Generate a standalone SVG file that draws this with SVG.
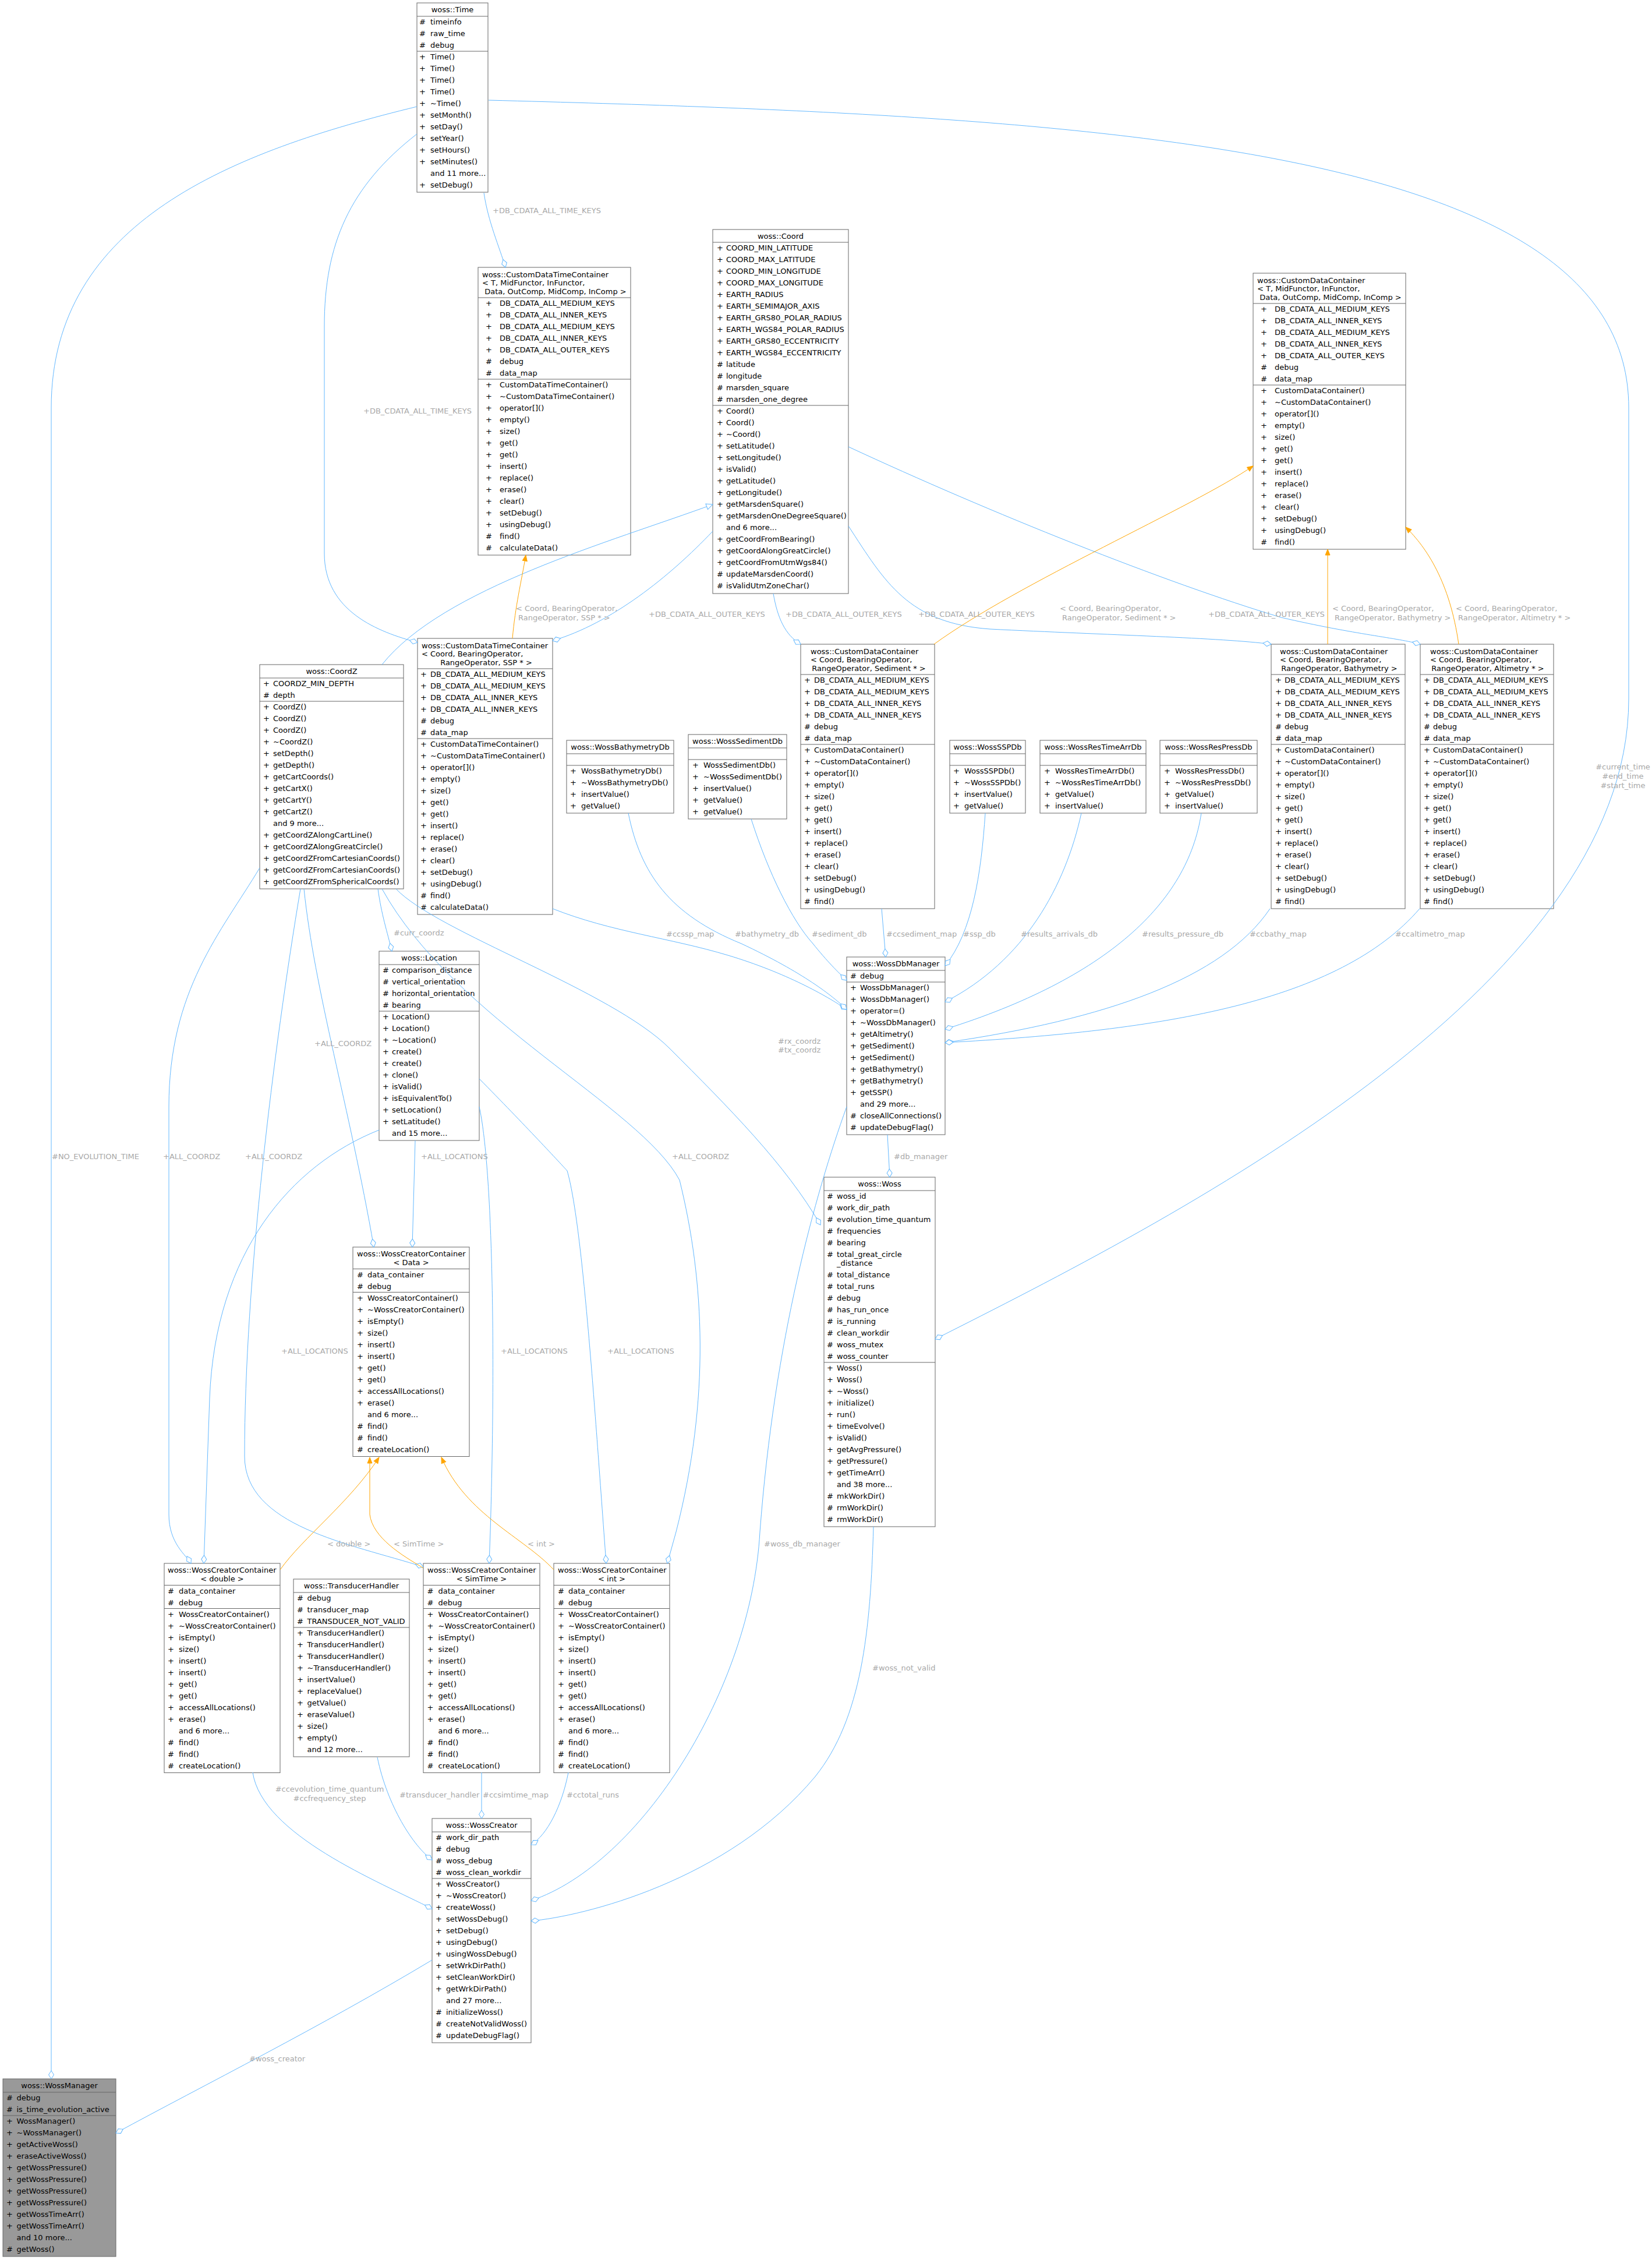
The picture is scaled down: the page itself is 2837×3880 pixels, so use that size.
<svg xmlns="http://www.w3.org/2000/svg" width="2837" height="3880" viewBox="0 0 2837 3880">
<style>
text{font-family:"DejaVu Sans","Liberation Sans",sans-serif;font-size:13px;fill:#000}
.c{text-anchor:middle}
.b{fill:#fff;stroke:#666;stroke-width:1}
.g{fill:#999;stroke:#666;stroke-width:1}
.s{stroke:#666;stroke-width:1;fill:none}
.e{fill:none;stroke:#63b8ff;stroke-width:1}
.o{fill:none;stroke:#ffa500;stroke-width:1}
.l{fill:#a8a8a8}
</style>
<defs>
<marker id="dm" viewBox="-15 -6 16 12" markerWidth="16" markerHeight="12" refX="0" refY="0" orient="auto" markerUnits="userSpaceOnUse"><path d="M0,0 L-7,-4.5 L-14,0 L-7,4.5 Z" fill="#fff" stroke="#63b8ff"/></marker>
<marker id="oa" viewBox="-12 -6 13 12" markerWidth="13" markerHeight="12" refX="0" refY="0" orient="auto" markerUnits="userSpaceOnUse"><path d="M0,0 L-10,-4 L-10,4 Z" fill="#ffa500" stroke="#ffa500"/></marker>
<marker id="ht" viewBox="-13 -7 14 14" markerWidth="14" markerHeight="14" refX="0" refY="0" orient="auto" markerUnits="userSpaceOnUse"><path d="M0,0 L-11,-5 L-11,5 Z" fill="#fff" stroke="#63b8ff"/></marker>
</defs>
<rect width="2837" height="3880" fill="#fff"/>

<g id="time" transform="translate(716,5)"><rect class="b" width="122" height="325"/><text class="c" x="61" y="16">woss::Time</text><path class="s" d="M0,23H122M0,83H122"/>
<text><tspan x="4" y="37">#</tspan><tspan x="23">timeinfo</tspan><tspan x="4" y="57">#</tspan><tspan x="23">raw_time</tspan><tspan x="4" y="77">#</tspan><tspan x="23">debug</tspan><tspan x="4" y="97">+</tspan><tspan x="23">Time()</tspan><tspan x="4" y="117">+</tspan><tspan x="23">Time()</tspan><tspan x="4" y="137">+</tspan><tspan x="23">Time()</tspan><tspan x="4" y="157">+</tspan><tspan x="23">Time()</tspan><tspan x="4" y="177">+</tspan><tspan x="23">~Time()</tspan><tspan x="4" y="197">+</tspan><tspan x="23">setMonth()</tspan><tspan x="4" y="217">+</tspan><tspan x="23">setDay()</tspan><tspan x="4" y="237">+</tspan><tspan x="23">setYear()</tspan><tspan x="4" y="257">+</tspan><tspan x="23">setHours()</tspan><tspan x="4" y="277">+</tspan><tspan x="23">setMinutes()</tspan><tspan x="23" y="297">and 11 more...</tspan><tspan x="4" y="317">+</tspan><tspan x="23">setDebug()</tspan></text></g>

<g id="cdtc_t" transform="translate(821,459)"><rect class="b" width="262" height="494"/><text x="7" y="16.5">woss::CustomDataTimeContainer</text><text x="7" y="31">&lt; T, MidFunctor, InFunctor,</text><text class="c" x="133" y="45.5">Data, OutComp, MidComp, InComp &gt;</text><path class="s" d="M0,52H262M0,192H262"/>
<text><tspan x="13" y="66">+</tspan><tspan x="37">DB_CDATA_ALL_MEDIUM_KEYS</tspan><tspan x="13" y="86">+</tspan><tspan x="37">DB_CDATA_ALL_INNER_KEYS</tspan><tspan x="13" y="106">+</tspan><tspan x="37">DB_CDATA_ALL_MEDIUM_KEYS</tspan><tspan x="13" y="126">+</tspan><tspan x="37">DB_CDATA_ALL_INNER_KEYS</tspan><tspan x="13" y="146">+</tspan><tspan x="37">DB_CDATA_ALL_OUTER_KEYS</tspan><tspan x="13" y="166">#</tspan><tspan x="37">debug</tspan><tspan x="13" y="186">#</tspan><tspan x="37">data_map</tspan><tspan x="13" y="206">+</tspan><tspan x="37">CustomDataTimeContainer()</tspan><tspan x="13" y="226">+</tspan><tspan x="37">~CustomDataTimeContainer()</tspan><tspan x="13" y="246">+</tspan><tspan x="37">operator[]()</tspan><tspan x="13" y="266">+</tspan><tspan x="37">empty()</tspan><tspan x="13" y="286">+</tspan><tspan x="37">size()</tspan><tspan x="13" y="306">+</tspan><tspan x="37">get()</tspan><tspan x="13" y="326">+</tspan><tspan x="37">get()</tspan><tspan x="13" y="346">+</tspan><tspan x="37">insert()</tspan><tspan x="13" y="366">+</tspan><tspan x="37">replace()</tspan><tspan x="13" y="386">+</tspan><tspan x="37">erase()</tspan><tspan x="13" y="406">+</tspan><tspan x="37">clear()</tspan><tspan x="13" y="426">+</tspan><tspan x="37">setDebug()</tspan><tspan x="13" y="446">+</tspan><tspan x="37">usingDebug()</tspan><tspan x="13" y="466">#</tspan><tspan x="37">find()</tspan><tspan x="13" y="486">#</tspan><tspan x="37">calculateData()</tspan></text></g>

<g id="coord" transform="translate(1224,394)"><rect class="b" width="233" height="625"/><text class="c" x="116.5" y="15.5">woss::Coord</text><path class="s" d="M0,22H233M0,302H233"/>
<text><tspan x="7" y="36">+</tspan><tspan x="23">COORD_MIN_LATITUDE</tspan><tspan x="7" y="56">+</tspan><tspan x="23">COORD_MAX_LATITUDE</tspan><tspan x="7" y="76">+</tspan><tspan x="23">COORD_MIN_LONGITUDE</tspan><tspan x="7" y="96">+</tspan><tspan x="23">COORD_MAX_LONGITUDE</tspan><tspan x="7" y="116">+</tspan><tspan x="23">EARTH_RADIUS</tspan><tspan x="7" y="136">+</tspan><tspan x="23">EARTH_SEMIMAJOR_AXIS</tspan><tspan x="7" y="156">+</tspan><tspan x="23">EARTH_GRS80_POLAR_RADIUS</tspan><tspan x="7" y="176">+</tspan><tspan x="23">EARTH_WGS84_POLAR_RADIUS</tspan><tspan x="7" y="196">+</tspan><tspan x="23">EARTH_GRS80_ECCENTRICITY</tspan><tspan x="7" y="216">+</tspan><tspan x="23">EARTH_WGS84_ECCENTRICITY</tspan><tspan x="7" y="236">#</tspan><tspan x="23">latitude</tspan><tspan x="7" y="256">#</tspan><tspan x="23">longitude</tspan><tspan x="7" y="276">#</tspan><tspan x="23">marsden_square</tspan><tspan x="7" y="296">#</tspan><tspan x="23">marsden_one_degree</tspan><tspan x="7" y="316">+</tspan><tspan x="23">Coord()</tspan><tspan x="7" y="336">+</tspan><tspan x="23">Coord()</tspan><tspan x="7" y="356">+</tspan><tspan x="23">~Coord()</tspan><tspan x="7" y="376">+</tspan><tspan x="23">setLatitude()</tspan><tspan x="7" y="396">+</tspan><tspan x="23">setLongitude()</tspan><tspan x="7" y="416">+</tspan><tspan x="23">isValid()</tspan><tspan x="7" y="436">+</tspan><tspan x="23">getLatitude()</tspan><tspan x="7" y="456">+</tspan><tspan x="23">getLongitude()</tspan><tspan x="7" y="476">+</tspan><tspan x="23">getMarsdenSquare()</tspan><tspan x="7" y="496">+</tspan><tspan x="23">getMarsdenOneDegreeSquare()</tspan><tspan x="23" y="516">and 6 more...</tspan><tspan x="7" y="536">+</tspan><tspan x="23">getCoordFromBearing()</tspan><tspan x="7" y="556">+</tspan><tspan x="23">getCoordAlongGreatCircle()</tspan><tspan x="7" y="576">+</tspan><tspan x="23">getCoordFromUtmWgs84()</tspan><tspan x="7" y="596">#</tspan><tspan x="23">updateMarsdenCoord()</tspan><tspan x="7" y="616">#</tspan><tspan x="23">isValidUtmZoneChar()</tspan></text></g>

<g id="cdc_t" transform="translate(2152,469)"><rect class="b" width="262" height="474"/><text x="7" y="16.5">woss::CustomDataContainer</text><text x="7" y="31">&lt; T, MidFunctor, InFunctor,</text><text class="c" x="133" y="45.5">Data, OutComp, MidComp, InComp &gt;</text><path class="s" d="M0,52H262M0,192H262"/>
<text><tspan x="13" y="66">+</tspan><tspan x="37">DB_CDATA_ALL_MEDIUM_KEYS</tspan><tspan x="13" y="86">+</tspan><tspan x="37">DB_CDATA_ALL_INNER_KEYS</tspan><tspan x="13" y="106">+</tspan><tspan x="37">DB_CDATA_ALL_MEDIUM_KEYS</tspan><tspan x="13" y="126">+</tspan><tspan x="37">DB_CDATA_ALL_INNER_KEYS</tspan><tspan x="13" y="146">+</tspan><tspan x="37">DB_CDATA_ALL_OUTER_KEYS</tspan><tspan x="13" y="166">#</tspan><tspan x="37">debug</tspan><tspan x="13" y="186">#</tspan><tspan x="37">data_map</tspan><tspan x="13" y="206">+</tspan><tspan x="37">CustomDataContainer()</tspan><tspan x="13" y="226">+</tspan><tspan x="37">~CustomDataContainer()</tspan><tspan x="13" y="246">+</tspan><tspan x="37">operator[]()</tspan><tspan x="13" y="266">+</tspan><tspan x="37">empty()</tspan><tspan x="13" y="286">+</tspan><tspan x="37">size()</tspan><tspan x="13" y="306">+</tspan><tspan x="37">get()</tspan><tspan x="13" y="326">+</tspan><tspan x="37">get()</tspan><tspan x="13" y="346">+</tspan><tspan x="37">insert()</tspan><tspan x="13" y="366">+</tspan><tspan x="37">replace()</tspan><tspan x="13" y="386">+</tspan><tspan x="37">erase()</tspan><tspan x="13" y="406">+</tspan><tspan x="37">clear()</tspan><tspan x="13" y="426">+</tspan><tspan x="37">setDebug()</tspan><tspan x="13" y="446">+</tspan><tspan x="37">usingDebug()</tspan><tspan x="13" y="466">#</tspan><tspan x="37">find()</tspan></text></g>

<g id="coordz" transform="translate(446,1141)"><rect class="b" width="247" height="385"/><text class="c" x="123.5" y="16">woss::CoordZ</text><path class="s" d="M0,23H247M0,63H247"/>
<text><tspan x="6" y="37">+</tspan><tspan x="23">COORDZ_MIN_DEPTH</tspan><tspan x="6" y="57">#</tspan><tspan x="23">depth</tspan><tspan x="6" y="77">+</tspan><tspan x="23">CoordZ()</tspan><tspan x="6" y="97">+</tspan><tspan x="23">CoordZ()</tspan><tspan x="6" y="117">+</tspan><tspan x="23">CoordZ()</tspan><tspan x="6" y="137">+</tspan><tspan x="23">~CoordZ()</tspan><tspan x="6" y="157">+</tspan><tspan x="23">setDepth()</tspan><tspan x="6" y="177">+</tspan><tspan x="23">getDepth()</tspan><tspan x="6" y="197">+</tspan><tspan x="23">getCartCoords()</tspan><tspan x="6" y="217">+</tspan><tspan x="23">getCartX()</tspan><tspan x="6" y="237">+</tspan><tspan x="23">getCartY()</tspan><tspan x="6" y="257">+</tspan><tspan x="23">getCartZ()</tspan><tspan x="23" y="277">and 9 more...</tspan><tspan x="6" y="297">+</tspan><tspan x="23">getCoordZAlongCartLine()</tspan><tspan x="6" y="317">+</tspan><tspan x="23">getCoordZAlongGreatCircle()</tspan><tspan x="6" y="337">+</tspan><tspan x="23">getCoordZFromCartesianCoords()</tspan><tspan x="6" y="357">+</tspan><tspan x="23">getCoordZFromCartesianCoords()</tspan><tspan x="6" y="377">+</tspan><tspan x="23">getCoordZFromSphericalCoords()</tspan></text></g>

<g id="cdtc_ssp" transform="translate(717,1096)"><rect class="b" width="232" height="474"/><text x="7" y="16.5">woss::CustomDataTimeContainer</text><text x="7" y="31">&lt; Coord, BearingOperator,</text><text class="c" x="118" y="45.5">RangeOperator, SSP * &gt;</text><path class="s" d="M0,52H232M0,172H232"/>
<text><tspan x="5" y="66">+</tspan><tspan x="22">DB_CDATA_ALL_MEDIUM_KEYS</tspan><tspan x="5" y="86">+</tspan><tspan x="22">DB_CDATA_ALL_MEDIUM_KEYS</tspan><tspan x="5" y="106">+</tspan><tspan x="22">DB_CDATA_ALL_INNER_KEYS</tspan><tspan x="5" y="126">+</tspan><tspan x="22">DB_CDATA_ALL_INNER_KEYS</tspan><tspan x="5" y="146">#</tspan><tspan x="22">debug</tspan><tspan x="5" y="166">#</tspan><tspan x="22">data_map</tspan><tspan x="5" y="186">+</tspan><tspan x="22">CustomDataTimeContainer()</tspan><tspan x="5" y="206">+</tspan><tspan x="22">~CustomDataTimeContainer()</tspan><tspan x="5" y="226">+</tspan><tspan x="22">operator[]()</tspan><tspan x="5" y="246">+</tspan><tspan x="22">empty()</tspan><tspan x="5" y="266">+</tspan><tspan x="22">size()</tspan><tspan x="5" y="286">+</tspan><tspan x="22">get()</tspan><tspan x="5" y="306">+</tspan><tspan x="22">get()</tspan><tspan x="5" y="326">+</tspan><tspan x="22">insert()</tspan><tspan x="5" y="346">+</tspan><tspan x="22">replace()</tspan><tspan x="5" y="366">+</tspan><tspan x="22">erase()</tspan><tspan x="5" y="386">+</tspan><tspan x="22">clear()</tspan><tspan x="5" y="406">+</tspan><tspan x="22">setDebug()</tspan><tspan x="5" y="426">+</tspan><tspan x="22">usingDebug()</tspan><tspan x="5" y="446">#</tspan><tspan x="22">find()</tspan><tspan x="5" y="466">#</tspan><tspan x="22">calculateData()</tspan></text></g>

<g id="bathy_db" transform="translate(973,1271)"><rect class="b" width="184" height="125"/><text class="c" x="92" y="16">woss::WossBathymetryDb</text><path class="s" d="M0,23H184M0,43H184"/>
<text><tspan x="6" y="57">+</tspan><tspan x="25">WossBathymetryDb()</tspan><tspan x="6" y="77">+</tspan><tspan x="25">~WossBathymetryDb()</tspan><tspan x="6" y="97">+</tspan><tspan x="25">insertValue()</tspan><tspan x="6" y="117">+</tspan><tspan x="25">getValue()</tspan></text></g>

<g id="sed_db" transform="translate(1182,1261)"><rect class="b" width="169" height="145"/><text class="c" x="84.5" y="16">woss::WossSedimentDb</text><path class="s" d="M0,23H169M0,43H169"/>
<text><tspan x="7" y="57">+</tspan><tspan x="26">WossSedimentDb()</tspan><tspan x="7" y="77">+</tspan><tspan x="26">~WossSedimentDb()</tspan><tspan x="7" y="97">+</tspan><tspan x="26">insertValue()</tspan><tspan x="7" y="117">+</tspan><tspan x="26">getValue()</tspan><tspan x="7" y="137">+</tspan><tspan x="26">getValue()</tspan></text></g>

<g id="cdc_sed" transform="translate(1375,1106)"><rect class="b" width="230" height="454"/><text x="17" y="16.5">woss::CustomDataContainer</text><text x="17" y="31">&lt; Coord, BearingOperator,</text><text class="c" x="117" y="45.5">RangeOperator, Sediment * &gt;</text><path class="s" d="M0,52H230M0,172H230"/>
<text><tspan x="6" y="66">+</tspan><tspan x="23">DB_CDATA_ALL_MEDIUM_KEYS</tspan><tspan x="6" y="86">+</tspan><tspan x="23">DB_CDATA_ALL_MEDIUM_KEYS</tspan><tspan x="6" y="106">+</tspan><tspan x="23">DB_CDATA_ALL_INNER_KEYS</tspan><tspan x="6" y="126">+</tspan><tspan x="23">DB_CDATA_ALL_INNER_KEYS</tspan><tspan x="6" y="146">#</tspan><tspan x="23">debug</tspan><tspan x="6" y="166">#</tspan><tspan x="23">data_map</tspan><tspan x="6" y="186">+</tspan><tspan x="23">CustomDataContainer()</tspan><tspan x="6" y="206">+</tspan><tspan x="23">~CustomDataContainer()</tspan><tspan x="6" y="226">+</tspan><tspan x="23">operator[]()</tspan><tspan x="6" y="246">+</tspan><tspan x="23">empty()</tspan><tspan x="6" y="266">+</tspan><tspan x="23">size()</tspan><tspan x="6" y="286">+</tspan><tspan x="23">get()</tspan><tspan x="6" y="306">+</tspan><tspan x="23">get()</tspan><tspan x="6" y="326">+</tspan><tspan x="23">insert()</tspan><tspan x="6" y="346">+</tspan><tspan x="23">replace()</tspan><tspan x="6" y="366">+</tspan><tspan x="23">erase()</tspan><tspan x="6" y="386">+</tspan><tspan x="23">clear()</tspan><tspan x="6" y="406">+</tspan><tspan x="23">setDebug()</tspan><tspan x="6" y="426">+</tspan><tspan x="23">usingDebug()</tspan><tspan x="6" y="446">#</tspan><tspan x="23">find()</tspan></text></g>

<g id="ssp_db" transform="translate(1631,1271)"><rect class="b" width="130" height="125"/><text class="c" x="65" y="16">woss::WossSSPDb</text><path class="s" d="M0,23H130M0,43H130"/>
<text><tspan x="6" y="57">+</tspan><tspan x="25">WossSSPDb()</tspan><tspan x="6" y="77">+</tspan><tspan x="25">~WossSSPDb()</tspan><tspan x="6" y="97">+</tspan><tspan x="25">insertValue()</tspan><tspan x="6" y="117">+</tspan><tspan x="25">getValue()</tspan></text></g>

<g id="restimearr_db" transform="translate(1786,1271)"><rect class="b" width="182" height="125"/><text class="c" x="91" y="16">woss::WossResTimeArrDb</text><path class="s" d="M0,23H182M0,43H182"/>
<text><tspan x="7" y="57">+</tspan><tspan x="26">WossResTimeArrDb()</tspan><tspan x="7" y="77">+</tspan><tspan x="26">~WossResTimeArrDb()</tspan><tspan x="7" y="97">+</tspan><tspan x="26">getValue()</tspan><tspan x="7" y="117">+</tspan><tspan x="26">insertValue()</tspan></text></g>

<g id="respress_db" transform="translate(1992,1271)"><rect class="b" width="167" height="125"/><text class="c" x="83.5" y="16">woss::WossResPressDb</text><path class="s" d="M0,23H167M0,43H167"/>
<text><tspan x="7" y="57">+</tspan><tspan x="26">WossResPressDb()</tspan><tspan x="7" y="77">+</tspan><tspan x="26">~WossResPressDb()</tspan><tspan x="7" y="97">+</tspan><tspan x="26">getValue()</tspan><tspan x="7" y="117">+</tspan><tspan x="26">insertValue()</tspan></text></g>

<g id="cdc_bathy" transform="translate(2183,1106)"><rect class="b" width="230" height="454"/><text x="15" y="16.5">woss::CustomDataContainer</text><text x="15" y="31">&lt; Coord, BearingOperator,</text><text class="c" x="117" y="45.5">RangeOperator, Bathymetry &gt;</text><path class="s" d="M0,52H230M0,172H230"/>
<text><tspan x="7" y="66">+</tspan><tspan x="23">DB_CDATA_ALL_MEDIUM_KEYS</tspan><tspan x="7" y="86">+</tspan><tspan x="23">DB_CDATA_ALL_MEDIUM_KEYS</tspan><tspan x="7" y="106">+</tspan><tspan x="23">DB_CDATA_ALL_INNER_KEYS</tspan><tspan x="7" y="126">+</tspan><tspan x="23">DB_CDATA_ALL_INNER_KEYS</tspan><tspan x="7" y="146">#</tspan><tspan x="23">debug</tspan><tspan x="7" y="166">#</tspan><tspan x="23">data_map</tspan><tspan x="7" y="186">+</tspan><tspan x="23">CustomDataContainer()</tspan><tspan x="7" y="206">+</tspan><tspan x="23">~CustomDataContainer()</tspan><tspan x="7" y="226">+</tspan><tspan x="23">operator[]()</tspan><tspan x="7" y="246">+</tspan><tspan x="23">empty()</tspan><tspan x="7" y="266">+</tspan><tspan x="23">size()</tspan><tspan x="7" y="286">+</tspan><tspan x="23">get()</tspan><tspan x="7" y="306">+</tspan><tspan x="23">get()</tspan><tspan x="7" y="326">+</tspan><tspan x="23">insert()</tspan><tspan x="7" y="346">+</tspan><tspan x="23">replace()</tspan><tspan x="7" y="366">+</tspan><tspan x="23">erase()</tspan><tspan x="7" y="386">+</tspan><tspan x="23">clear()</tspan><tspan x="7" y="406">+</tspan><tspan x="23">setDebug()</tspan><tspan x="7" y="426">+</tspan><tspan x="23">usingDebug()</tspan><tspan x="7" y="446">#</tspan><tspan x="23">find()</tspan></text></g>

<g id="cdc_alti" transform="translate(2439,1106)"><rect class="b" width="229" height="454"/><text x="17" y="16.5">woss::CustomDataContainer</text><text x="17" y="31">&lt; Coord, BearingOperator,</text><text class="c" x="116" y="45.5">RangeOperator, Altimetry * &gt;</text><path class="s" d="M0,52H229M0,172H229"/>
<text><tspan x="6" y="66">+</tspan><tspan x="22">DB_CDATA_ALL_MEDIUM_KEYS</tspan><tspan x="6" y="86">+</tspan><tspan x="22">DB_CDATA_ALL_MEDIUM_KEYS</tspan><tspan x="6" y="106">+</tspan><tspan x="22">DB_CDATA_ALL_INNER_KEYS</tspan><tspan x="6" y="126">+</tspan><tspan x="22">DB_CDATA_ALL_INNER_KEYS</tspan><tspan x="6" y="146">#</tspan><tspan x="22">debug</tspan><tspan x="6" y="166">#</tspan><tspan x="22">data_map</tspan><tspan x="6" y="186">+</tspan><tspan x="22">CustomDataContainer()</tspan><tspan x="6" y="206">+</tspan><tspan x="22">~CustomDataContainer()</tspan><tspan x="6" y="226">+</tspan><tspan x="22">operator[]()</tspan><tspan x="6" y="246">+</tspan><tspan x="22">empty()</tspan><tspan x="6" y="266">+</tspan><tspan x="22">size()</tspan><tspan x="6" y="286">+</tspan><tspan x="22">get()</tspan><tspan x="6" y="306">+</tspan><tspan x="22">get()</tspan><tspan x="6" y="326">+</tspan><tspan x="22">insert()</tspan><tspan x="6" y="346">+</tspan><tspan x="22">replace()</tspan><tspan x="6" y="366">+</tspan><tspan x="22">erase()</tspan><tspan x="6" y="386">+</tspan><tspan x="22">clear()</tspan><tspan x="6" y="406">+</tspan><tspan x="22">setDebug()</tspan><tspan x="6" y="426">+</tspan><tspan x="22">usingDebug()</tspan><tspan x="6" y="446">#</tspan><tspan x="22">find()</tspan></text></g>

<g id="location" transform="translate(651,1633)"><rect class="b" width="172" height="325"/><text class="c" x="86" y="16">woss::Location</text><path class="s" d="M0,23H172M0,103H172"/>
<text><tspan x="6" y="37">#</tspan><tspan x="22">comparison_distance</tspan><tspan x="6" y="57">#</tspan><tspan x="22">vertical_orientation</tspan><tspan x="6" y="77">#</tspan><tspan x="22">horizontal_orientation</tspan><tspan x="6" y="97">#</tspan><tspan x="22">bearing</tspan><tspan x="6" y="117">+</tspan><tspan x="22">Location()</tspan><tspan x="6" y="137">+</tspan><tspan x="22">Location()</tspan><tspan x="6" y="157">+</tspan><tspan x="22">~Location()</tspan><tspan x="6" y="177">+</tspan><tspan x="22">create()</tspan><tspan x="6" y="197">+</tspan><tspan x="22">create()</tspan><tspan x="6" y="217">+</tspan><tspan x="22">clone()</tspan><tspan x="6" y="237">+</tspan><tspan x="22">isValid()</tspan><tspan x="6" y="257">+</tspan><tspan x="22">isEquivalentTo()</tspan><tspan x="6" y="277">+</tspan><tspan x="22">setLocation()</tspan><tspan x="6" y="297">+</tspan><tspan x="22">setLatitude()</tspan><tspan x="22" y="317">and 15 more...</tspan></text></g>

<g id="dbmanager" transform="translate(1454,1643)"><rect class="b" width="169" height="305"/><text class="c" x="84.5" y="16">woss::WossDbManager</text><path class="s" d="M0,23H169M0,43H169"/>
<text><tspan x="6" y="37">#</tspan><tspan x="23">debug</tspan><tspan x="6" y="57">+</tspan><tspan x="23">WossDbManager()</tspan><tspan x="6" y="77">+</tspan><tspan x="23">WossDbManager()</tspan><tspan x="6" y="97">+</tspan><tspan x="23">operator=()</tspan><tspan x="6" y="117">+</tspan><tspan x="23">~WossDbManager()</tspan><tspan x="6" y="137">+</tspan><tspan x="23">getAltimetry()</tspan><tspan x="6" y="157">+</tspan><tspan x="23">getSediment()</tspan><tspan x="6" y="177">+</tspan><tspan x="23">getSediment()</tspan><tspan x="6" y="197">+</tspan><tspan x="23">getBathymetry()</tspan><tspan x="6" y="217">+</tspan><tspan x="23">getBathymetry()</tspan><tspan x="6" y="237">+</tspan><tspan x="23">getSSP()</tspan><tspan x="23" y="257">and 29 more...</tspan><tspan x="6" y="277">#</tspan><tspan x="23">closeAllConnections()</tspan><tspan x="6" y="297">#</tspan><tspan x="23">updateDebugFlag()</tspan></text></g>

<g id="wcc_data" transform="translate(606,2141)"><rect class="b" width="200" height="359.5"/><text x="7" y="16">woss::WossCreatorContainer</text><text class="c" x="100" y="31">&lt; Data &gt;</text><path class="s" d="M0,37.5H200M0,77.5H200"/>
<text><tspan x="7" y="51.5">#</tspan><tspan x="25">data_container</tspan><tspan x="7" y="71.5">#</tspan><tspan x="25">debug</tspan><tspan x="7" y="91.5">+</tspan><tspan x="25">WossCreatorContainer()</tspan><tspan x="7" y="111.5">+</tspan><tspan x="25">~WossCreatorContainer()</tspan><tspan x="7" y="131.5">+</tspan><tspan x="25">isEmpty()</tspan><tspan x="7" y="151.5">+</tspan><tspan x="25">size()</tspan><tspan x="7" y="171.5">+</tspan><tspan x="25">insert()</tspan><tspan x="7" y="191.5">+</tspan><tspan x="25">insert()</tspan><tspan x="7" y="211.5">+</tspan><tspan x="25">get()</tspan><tspan x="7" y="231.5">+</tspan><tspan x="25">get()</tspan><tspan x="7" y="251.5">+</tspan><tspan x="25">accessAllLocations()</tspan><tspan x="7" y="271.5">+</tspan><tspan x="25">erase()</tspan><tspan x="25" y="291.5">and 6 more...</tspan><tspan x="7" y="311.5">#</tspan><tspan x="25">find()</tspan><tspan x="7" y="331.5">#</tspan><tspan x="25">find()</tspan><tspan x="7" y="351.5">#</tspan><tspan x="25">createLocation()</tspan></text></g>

<g id="woss" transform="translate(1415,2021)"><rect class="b" width="191" height="600"/><text class="c" x="95.5" y="16">woss::Woss</text><path class="s" d="M0,23H191M0,318H191"/>
<text><tspan x="5" y="37">#</tspan><tspan x="22">woss_id</tspan><tspan x="5" y="57">#</tspan><tspan x="22">work_dir_path</tspan><tspan x="5" y="77">#</tspan><tspan x="22">evolution_time_quantum</tspan><tspan x="5" y="97">#</tspan><tspan x="22">frequencies</tspan><tspan x="5" y="117">#</tspan><tspan x="22">bearing</tspan><tspan x="5" y="137">#</tspan><tspan x="22">total_great_circle</tspan><tspan x="22" y="152">_distance</tspan><tspan x="5" y="172">#</tspan><tspan x="22">total_distance</tspan><tspan x="5" y="192">#</tspan><tspan x="22">total_runs</tspan><tspan x="5" y="212">#</tspan><tspan x="22">debug</tspan><tspan x="5" y="232">#</tspan><tspan x="22">has_run_once</tspan><tspan x="5" y="252">#</tspan><tspan x="22">is_running</tspan><tspan x="5" y="272">#</tspan><tspan x="22">clean_workdir</tspan><tspan x="5" y="292">#</tspan><tspan x="22">woss_mutex</tspan><tspan x="5" y="312">#</tspan><tspan x="22">woss_counter</tspan><tspan x="5" y="332">+</tspan><tspan x="22">Woss()</tspan><tspan x="5" y="352">+</tspan><tspan x="22">Woss()</tspan><tspan x="5" y="372">+</tspan><tspan x="22">~Woss()</tspan><tspan x="5" y="392">+</tspan><tspan x="22">initialize()</tspan><tspan x="5" y="412">+</tspan><tspan x="22">run()</tspan><tspan x="5" y="432">+</tspan><tspan x="22">timeEvolve()</tspan><tspan x="5" y="452">+</tspan><tspan x="22">isValid()</tspan><tspan x="5" y="472">+</tspan><tspan x="22">getAvgPressure()</tspan><tspan x="5" y="492">+</tspan><tspan x="22">getPressure()</tspan><tspan x="5" y="512">+</tspan><tspan x="22">getTimeArr()</tspan><tspan x="22" y="532">and 38 more...</tspan><tspan x="5" y="552">#</tspan><tspan x="22">mkWorkDir()</tspan><tspan x="5" y="572">#</tspan><tspan x="22">rmWorkDir()</tspan><tspan x="5" y="592">#</tspan><tspan x="22">rmWorkDir()</tspan></text></g>

<g id="wcc_double" transform="translate(282,2684)"><rect class="b" width="199" height="359.5"/><text x="6" y="16">woss::WossCreatorContainer</text><text class="c" x="99.5" y="31">&lt; double &gt;</text><path class="s" d="M0,37.5H199M0,77.5H199"/>
<text><tspan x="6" y="51.5">#</tspan><tspan x="25">data_container</tspan><tspan x="6" y="71.5">#</tspan><tspan x="25">debug</tspan><tspan x="6" y="91.5">+</tspan><tspan x="25">WossCreatorContainer()</tspan><tspan x="6" y="111.5">+</tspan><tspan x="25">~WossCreatorContainer()</tspan><tspan x="6" y="131.5">+</tspan><tspan x="25">isEmpty()</tspan><tspan x="6" y="151.5">+</tspan><tspan x="25">size()</tspan><tspan x="6" y="171.5">+</tspan><tspan x="25">insert()</tspan><tspan x="6" y="191.5">+</tspan><tspan x="25">insert()</tspan><tspan x="6" y="211.5">+</tspan><tspan x="25">get()</tspan><tspan x="6" y="231.5">+</tspan><tspan x="25">get()</tspan><tspan x="6" y="251.5">+</tspan><tspan x="25">accessAllLocations()</tspan><tspan x="6" y="271.5">+</tspan><tspan x="25">erase()</tspan><tspan x="25" y="291.5">and 6 more...</tspan><tspan x="6" y="311.5">#</tspan><tspan x="25">find()</tspan><tspan x="6" y="331.5">#</tspan><tspan x="25">find()</tspan><tspan x="6" y="351.5">#</tspan><tspan x="25">createLocation()</tspan></text></g>

<g id="transducer_handler" transform="translate(504,2711)"><rect class="b" width="199" height="305"/><text class="c" x="99.5" y="16">woss::TransducerHandler</text><path class="s" d="M0,23H199M0,83H199"/>
<text><tspan x="6" y="37">#</tspan><tspan x="23.5">debug</tspan><tspan x="6" y="57">#</tspan><tspan x="23.5">transducer_map</tspan><tspan x="6" y="77">#</tspan><tspan x="23.5">TRANSDUCER_NOT_VALID</tspan><tspan x="6" y="97">+</tspan><tspan x="23.5">TransducerHandler()</tspan><tspan x="6" y="117">+</tspan><tspan x="23.5">TransducerHandler()</tspan><tspan x="6" y="137">+</tspan><tspan x="23.5">TransducerHandler()</tspan><tspan x="6" y="157">+</tspan><tspan x="23.5">~TransducerHandler()</tspan><tspan x="6" y="177">+</tspan><tspan x="23.5">insertValue()</tspan><tspan x="6" y="197">+</tspan><tspan x="23.5">replaceValue()</tspan><tspan x="6" y="217">+</tspan><tspan x="23.5">getValue()</tspan><tspan x="6" y="237">+</tspan><tspan x="23.5">eraseValue()</tspan><tspan x="6" y="257">+</tspan><tspan x="23.5">size()</tspan><tspan x="6" y="277">+</tspan><tspan x="23.5">empty()</tspan><tspan x="23.5" y="297">and 12 more...</tspan></text></g>

<g id="wcc_simtime" transform="translate(727,2684)"><rect class="b" width="200" height="359.5"/><text x="7" y="16">woss::WossCreatorContainer</text><text class="c" x="100" y="31">&lt; SimTime &gt;</text><path class="s" d="M0,37.5H200M0,77.5H200"/>
<text><tspan x="6.5" y="51.5">#</tspan><tspan x="25.5">data_container</tspan><tspan x="6.5" y="71.5">#</tspan><tspan x="25.5">debug</tspan><tspan x="6.5" y="91.5">+</tspan><tspan x="25.5">WossCreatorContainer()</tspan><tspan x="6.5" y="111.5">+</tspan><tspan x="25.5">~WossCreatorContainer()</tspan><tspan x="6.5" y="131.5">+</tspan><tspan x="25.5">isEmpty()</tspan><tspan x="6.5" y="151.5">+</tspan><tspan x="25.5">size()</tspan><tspan x="6.5" y="171.5">+</tspan><tspan x="25.5">insert()</tspan><tspan x="6.5" y="191.5">+</tspan><tspan x="25.5">insert()</tspan><tspan x="6.5" y="211.5">+</tspan><tspan x="25.5">get()</tspan><tspan x="6.5" y="231.5">+</tspan><tspan x="25.5">get()</tspan><tspan x="6.5" y="251.5">+</tspan><tspan x="25.5">accessAllLocations()</tspan><tspan x="6.5" y="271.5">+</tspan><tspan x="25.5">erase()</tspan><tspan x="25.5" y="291.5">and 6 more...</tspan><tspan x="6.5" y="311.5">#</tspan><tspan x="25.5">find()</tspan><tspan x="6.5" y="331.5">#</tspan><tspan x="25.5">find()</tspan><tspan x="6.5" y="351.5">#</tspan><tspan x="25.5">createLocation()</tspan></text></g>

<g id="wcc_int" transform="translate(951,2684)"><rect class="b" width="199" height="359.5"/><text x="7" y="16">woss::WossCreatorContainer</text><text class="c" x="99.5" y="31">&lt; int &gt;</text><path class="s" d="M0,37.5H199M0,77.5H199"/>
<text><tspan x="7" y="51.5">#</tspan><tspan x="25">data_container</tspan><tspan x="7" y="71.5">#</tspan><tspan x="25">debug</tspan><tspan x="7" y="91.5">+</tspan><tspan x="25">WossCreatorContainer()</tspan><tspan x="7" y="111.5">+</tspan><tspan x="25">~WossCreatorContainer()</tspan><tspan x="7" y="131.5">+</tspan><tspan x="25">isEmpty()</tspan><tspan x="7" y="151.5">+</tspan><tspan x="25">size()</tspan><tspan x="7" y="171.5">+</tspan><tspan x="25">insert()</tspan><tspan x="7" y="191.5">+</tspan><tspan x="25">insert()</tspan><tspan x="7" y="211.5">+</tspan><tspan x="25">get()</tspan><tspan x="7" y="231.5">+</tspan><tspan x="25">get()</tspan><tspan x="7" y="251.5">+</tspan><tspan x="25">accessAllLocations()</tspan><tspan x="7" y="271.5">+</tspan><tspan x="25">erase()</tspan><tspan x="25" y="291.5">and 6 more...</tspan><tspan x="7" y="311.5">#</tspan><tspan x="25">find()</tspan><tspan x="7" y="331.5">#</tspan><tspan x="25">find()</tspan><tspan x="7" y="351.5">#</tspan><tspan x="25">createLocation()</tspan></text></g>

<g id="woss_creator" transform="translate(742,3122)"><rect class="b" width="170" height="385"/><text class="c" x="85" y="16">woss::WossCreator</text><path class="s" d="M0,23H170M0,103H170"/>
<text><tspan x="6" y="37">#</tspan><tspan x="24">work_dir_path</tspan><tspan x="6" y="57">#</tspan><tspan x="24">debug</tspan><tspan x="6" y="77">#</tspan><tspan x="24">woss_debug</tspan><tspan x="6" y="97">#</tspan><tspan x="24">woss_clean_workdir</tspan><tspan x="6" y="117">+</tspan><tspan x="24">WossCreator()</tspan><tspan x="6" y="137">+</tspan><tspan x="24">~WossCreator()</tspan><tspan x="6" y="157">+</tspan><tspan x="24">createWoss()</tspan><tspan x="6" y="177">+</tspan><tspan x="24">setWossDebug()</tspan><tspan x="6" y="197">+</tspan><tspan x="24">setDebug()</tspan><tspan x="6" y="217">+</tspan><tspan x="24">usingDebug()</tspan><tspan x="6" y="237">+</tspan><tspan x="24">usingWossDebug()</tspan><tspan x="6" y="257">+</tspan><tspan x="24">setWrkDirPath()</tspan><tspan x="6" y="277">+</tspan><tspan x="24">setCleanWorkDir()</tspan><tspan x="6" y="297">+</tspan><tspan x="24">getWrkDirPath()</tspan><tspan x="24" y="317">and 27 more...</tspan><tspan x="6" y="337">#</tspan><tspan x="24">initializeWoss()</tspan><tspan x="6" y="357">#</tspan><tspan x="24">createNotValidWoss()</tspan><tspan x="6" y="377">#</tspan><tspan x="24">updateDebugFlag()</tspan></text></g>

<g id="woss_manager" transform="translate(5,3569)"><rect class="g" width="194" height="305"/><text class="c" x="97" y="16">woss::WossManager</text><path class="s" d="M0,23H194M0,63H194"/>
<text><tspan x="6" y="37">#</tspan><tspan x="23.5">debug</tspan><tspan x="6" y="57">#</tspan><tspan x="23.5">is_time_evolution_active</tspan><tspan x="6" y="77">+</tspan><tspan x="23.5">WossManager()</tspan><tspan x="6" y="97">+</tspan><tspan x="23.5">~WossManager()</tspan><tspan x="6" y="117">+</tspan><tspan x="23.5">getActiveWoss()</tspan><tspan x="6" y="137">+</tspan><tspan x="23.5">eraseActiveWoss()</tspan><tspan x="6" y="157">+</tspan><tspan x="23.5">getWossPressure()</tspan><tspan x="6" y="177">+</tspan><tspan x="23.5">getWossPressure()</tspan><tspan x="6" y="197">+</tspan><tspan x="23.5">getWossPressure()</tspan><tspan x="6" y="217">+</tspan><tspan x="23.5">getWossPressure()</tspan><tspan x="6" y="237">+</tspan><tspan x="23.5">getWossTimeArr()</tspan><tspan x="6" y="257">+</tspan><tspan x="23.5">getWossTimeArr()</tspan><tspan x="23.5" y="277">and 10 more...</tspan><tspan x="6" y="297">#</tspan><tspan x="23.5">getWoss()</tspan></text></g>

<g id="connectors">
<path class="e" marker-end="url(#dm)" d="M831,331 C838,380 858,425 868,459"/>
<path class="e" marker-end="url(#dm)" d="M716,230 C600,320 557,420 557,560 L557,950 C557,1050 650,1085 717,1103"/>
<path class="e" marker-end="url(#dm)" d="M716,183 C400,260 88,380 88,700 L88,3569"/>
<path class="e" marker-end="url(#dm)" d="M839,172 C1900,200 2797,250 2797,700 L2797,1200 C2797,1700 2000,2100 1606,2299"/>
<path class="e" marker-end="url(#ht)" d="M656,1141 C760,1010 1050,930 1224,866"/>
<path class="e" marker-end="url(#dm)" d="M1224,912 C1150,990 1050,1070 949,1100"/>
<path class="o" marker-end="url(#oa)" d="M880,1096 C885,1040 895,1000 903,953"/>
<path class="e" marker-end="url(#dm)" d="M1328,1019 C1335,1060 1348,1090 1375,1106"/>
<path class="e" marker-end="url(#dm)" d="M1457,903 C1520,1000 1560,1070 1700,1080 C1900,1090 2100,1095 2183,1106"/>
<path class="e" marker-end="url(#dm)" d="M1457,767 C1700,880 2000,1000 2200,1060 C2330,1090 2400,1095 2439,1106"/>
<path class="o" marker-end="url(#oa)" d="M1604,1106 C1750,1000 2050,870 2152,800"/>
<path class="o" marker-end="url(#oa)" d="M2280,1106 L2280,943"/>
<path class="o" marker-end="url(#oa)" d="M2505,1106 C2490,1000 2450,940 2414,905"/>
<path class="e" marker-end="url(#dm)" d="M949,1560 C1050,1600 1150,1610 1250,1640 C1350,1670 1420,1710 1454,1733"/>
<path class="e" marker-end="url(#dm)" d="M1079,1396 C1100,1500 1150,1570 1273,1620 C1380,1670 1430,1710 1454,1733"/>
<path class="e" marker-end="url(#dm)" d="M1290,1406 C1320,1500 1360,1580 1396,1620 C1420,1650 1440,1670 1454,1683"/>
<path class="e" marker-end="url(#dm)" d="M1514,1560 L1521,1643"/>
<path class="e" marker-end="url(#dm)" d="M1692,1396 C1685,1500 1670,1600 1623,1658"/>
<path class="e" marker-end="url(#dm)" d="M1857,1396 C1830,1520 1760,1650 1623,1720"/>
<path class="e" marker-end="url(#dm)" d="M2063,1396 C2040,1550 1900,1680 1623,1767"/>
<path class="e" marker-end="url(#dm)" d="M2181,1560 C2100,1680 1900,1750 1623,1790"/>
<path class="e" marker-end="url(#dm)" d="M2438,1560 C2300,1720 2000,1770 1623,1790"/>
<path class="e" marker-end="url(#dm)" d="M1524,1948 L1528,2021"/>
<path class="e" marker-end="url(#dm)" d="M680,1526 C750,1600 1050,1700 1150,1800 C1250,1900 1350,2000 1409,2103"/>
<path class="e" marker-end="url(#dm)" d="M1454,1900 C1400,2050 1330,2300 1305,2630 C1290,2900 1100,3200 912,3263"/>
<path class="e" marker-end="url(#dm)" d="M1500,2621 C1495,2800 1480,2950 1400,3050 C1250,3230 1000,3290 912,3298"/>
<path class="e" marker-end="url(#dm)" d="M649,1526 C655,1570 665,1600 673,1633"/>
<path class="e" marker-end="url(#dm)" d="M522,1526 C540,1700 600,1900 642,2141"/>
<path class="e" marker-end="url(#dm)" d="M446,1490 C380,1600 290,1700 290,1900 L290,2600 C290,2650 320,2670 328,2684"/>
<path class="e" marker-end="url(#dm)" d="M516,1526 C470,1800 420,2200 420,2500 C420,2620 600,2650 727,2690"/>
<path class="e" marker-end="url(#dm)" d="M656,1526 C780,1750 1100,1900 1167,2026 C1210,2200 1220,2400 1161,2630 L1146,2684"/>
<path class="e" marker-end="url(#dm)" d="M713,1958 L708,2141"/>
<path class="e" marker-end="url(#dm)" d="M651,1940 C500,2000 370,2150 360,2400 L350,2684"/>
<path class="e" marker-end="url(#dm)" d="M823,1900 C845,2000 852,2300 842,2630 L840,2684"/>
<path class="e" marker-end="url(#dm)" d="M823,1852 C900,1930 965,2000 974,2010 C1000,2100 1020,2400 1041,2684"/>
<path class="o" marker-end="url(#oa)" d="M481,2695 C520,2640 600,2580 651,2502"/>
<path class="o" marker-end="url(#oa)" d="M727,2692 C690,2670 640,2640 635,2600 L635,2502"/>
<path class="o" marker-end="url(#oa)" d="M951,2695 C900,2640 800,2600 758,2502"/>
<path class="e" marker-end="url(#dm)" d="M434,3043 C450,3150 650,3230 742,3277"/>
<path class="e" marker-end="url(#dm)" d="M648,3017 C665,3100 710,3170 742,3193"/>
<path class="e" marker-end="url(#dm)" d="M827,3043 L827,3122"/>
<path class="e" marker-end="url(#dm)" d="M976,3043 C965,3100 940,3150 912,3167"/>
<path class="e" marker-end="url(#dm)" d="M742,3365 C550,3480 350,3580 199,3662"/>
</g>

<g id="edge-labels" class="l">
<text class="l" x="846" y="366">+DB_CDATA_ALL_TIME_KEYS</text>
<text class="l" x="624" y="710">+DB_CDATA_ALL_TIME_KEYS</text>
<text class="l" x="89" y="1990">#NO_EVOLUTION_TIME</text>
<text class="l c" x="2787" y="1321">#current_time</text>
<text class="l c" x="2787" y="1337">#end_time</text>
<text class="l c" x="2787" y="1353">#start_time</text>
<text class="l" x="1114" y="1059">+DB_CDATA_ALL_OUTER_KEYS</text>
<text class="l" x="886" y="1049">&lt; Coord, BearingOperator,</text>
<text class="l" x="890" y="1065">RangeOperator, SSP * &gt;</text>
<text class="l" x="1349" y="1059">+DB_CDATA_ALL_OUTER_KEYS</text>
<text class="l" x="1577" y="1059">+DB_CDATA_ALL_OUTER_KEYS</text>
<text class="l" x="2075" y="1059">+DB_CDATA_ALL_OUTER_KEYS</text>
<text class="l" x="1820" y="1049">&lt; Coord, BearingOperator,</text>
<text class="l" x="1824" y="1065">RangeOperator, Sediment * &gt;</text>
<text class="l" x="2288" y="1049">&lt; Coord, BearingOperator,</text>
<text class="l" x="2292" y="1065">RangeOperator, Bathymetry &gt;</text>
<text class="l" x="2500" y="1049">&lt; Coord, BearingOperator,</text>
<text class="l" x="2504" y="1065">RangeOperator, Altimetry * &gt;</text>
<text class="l" x="1144" y="1608">#ccssp_map</text>
<text class="l" x="1262" y="1608">#bathymetry_db</text>
<text class="l" x="1394" y="1608">#sediment_db</text>
<text class="l" x="1522" y="1608">#ccsediment_map</text>
<text class="l" x="1654" y="1608">#ssp_db</text>
<text class="l" x="1753" y="1608">#results_arrivals_db</text>
<text class="l" x="1961" y="1608">#results_pressure_db</text>
<text class="l" x="2146" y="1608">#ccbathy_map</text>
<text class="l" x="2396" y="1608">#ccaltimetro_map</text>
<text class="l" x="1336" y="1792">#rx_coordz</text>
<text class="l" x="1336" y="1807">#tx_coordz</text>
<text class="l" x="1535" y="1990">#db_manager</text>
<text class="l" x="676" y="1606">#curr_coordz</text>
<text class="l" x="540" y="1796">+ALL_COORDZ</text>
<text class="l" x="280" y="1990">+ALL_COORDZ</text>
<text class="l" x="421" y="1990">+ALL_COORDZ</text>
<text class="l" x="1154" y="1990">+ALL_COORDZ</text>
<text class="l" x="723" y="1990">+ALL_LOCATIONS</text>
<text class="l" x="483" y="2324">+ALL_LOCATIONS</text>
<text class="l" x="860" y="2324">+ALL_LOCATIONS</text>
<text class="l" x="1043" y="2324">+ALL_LOCATIONS</text>
<text class="l" x="1312" y="2655">#woss_db_manager</text>
<text class="l" x="1498" y="2868">#woss_not_valid</text>
<text class="l" x="562" y="2655">&lt; double &gt;</text>
<text class="l" x="676" y="2655">&lt; SimTime &gt;</text>
<text class="l" x="906" y="2655">&lt; int &gt;</text>
<text class="l c" x="566" y="3076">#ccevolution_time_quantum</text>
<text class="l c" x="566" y="3092">#ccfrequency_step</text>
<text class="l" x="686" y="3086">#transducer_handler</text>
<text class="l" x="829" y="3086">#ccsimtime_map</text>
<text class="l" x="973" y="3086">#cctotal_runs</text>
<text class="l" x="428" y="3539">#woss_creator</text>
</g>
</svg>
